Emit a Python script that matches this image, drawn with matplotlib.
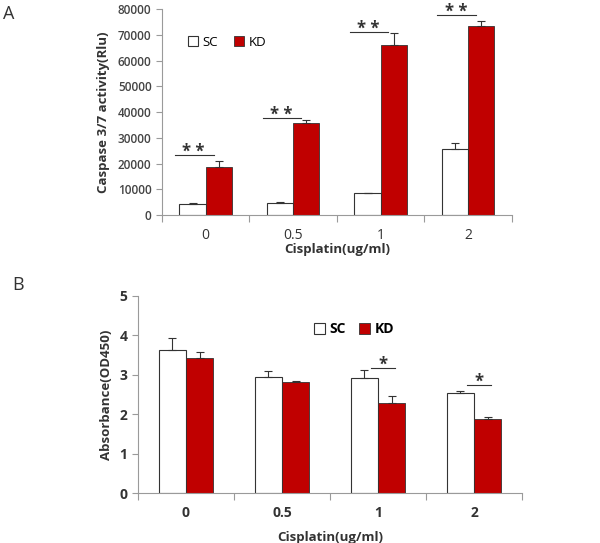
import numpy as np
import matplotlib
matplotlib.use("Agg")
import matplotlib.pyplot as plt

plt.rcParams['font.family'] = ['Open Sans', 'DejaVu Sans']

doses = ['0', '0.5', '1', '2']

# panel A - caspase 3/7 activity
casp_sc = [4300, 4700, 8500, 25600]
casp_sc_err = [400, 500, 200, 2500]
casp_kd = [18600, 35900, 66200, 73400]
casp_kd_err = [2500, 1000, 4400, 2100]
casp_sig = ['**', '**', '**', '**']
casp_sig_y = [23500, 37700, 71200, 77900]

# panel B - absorbance OD450
abs_sc = [3.62, 2.95, 2.93, 2.54]
abs_sc_err = [0.32, 0.14, 0.18, 0.06]
abs_kd = [3.42, 2.82, 2.29, 1.89]
abs_kd_err = [0.16, 0.03, 0.17, 0.03]
abs_sig = ['', '', '*', '*']
abs_sig_y = [0, 0, 3.17, 2.75]

RED = '#C00000'
AXIS = '#9a9a9a'
INK = '#333333'


def style_axes(ax, n):
    for s in ['top', 'right']:
        ax.spines[s].set_visible(False)
    ax.spines['left'].set_color(AXIS)
    ax.spines['bottom'].set_color(AXIS)
    ax.set_xlim(-0.5, n - 0.5)
    # ticks between categories like excel
    ax.set_xticks(np.arange(n + 1) - 0.5, minor=False)
    ax.set_xticklabels([''] * (n + 1))
    ax.set_xticks(np.arange(n), minor=True)
    ax.tick_params(axis='x', which='major', length=5, color=AXIS)
    ax.tick_params(axis='x', which='minor', length=0, pad=9)
    ax.tick_params(axis='y', length=4, color=AXIS, direction='out')


def bars(ax, sc, sc_err, kd, kd_err, w):
    x = np.arange(len(sc))
    ekw = dict(ecolor=INK, elinewidth=0.8, capsize=3, capthick=0.8)
    ax.bar(x - w / 2, sc, w, color='white', edgecolor=INK, linewidth=0.8,
           yerr=[np.zeros(len(sc)), sc_err], error_kw=ekw, label='SC', zorder=2)
    ax.bar(x + w / 2, kd, w, color=RED, edgecolor=INK, linewidth=0.6,
           yerr=[np.zeros(len(kd)), kd_err], error_kw=ekw, label='KD', zorder=2)
    return x


def star(ax, x, y, s, size):
    # asterisk sits high in its text box, so anchor the baseline a bit under the line
    ax.annotate(s, (x, y), xytext=(0, -1.5), textcoords='offset points',
                ha='center', va='baseline', fontsize=size, fontweight='bold',
                color=INK, annotation_clip=False)


fig = plt.figure(figsize=(6, 5.43), dpi=100)

# ---- A ----
axA = fig.add_axes([0.27, 0.604, 0.583, 0.379])
w = 0.3
x = bars(axA, casp_sc, casp_sc_err, casp_kd, casp_kd_err, w)
style_axes(axA, len(doses))
axA.set_xticklabels(doses, minor=True, fontsize=10, color=INK)
axA.set_ylim(0, 80000)
axA.set_yticks(np.arange(0, 80001, 10000))
axA.set_yticklabels([str(v) for v in range(0, 80001, 10000)], fontsize=8.5, color='#444444', fontweight='semibold')
for i in range(len(doses)):
    axA.plot([x[i] - 0.35, x[i] + 0.09], [casp_sig_y[i]] * 2, color=INK, lw=0.8)
    star(axA, x[i] - 0.14, casp_sig_y[i], '* *', 12)
axA.set_ylabel('Caspase 3/7 activity(Rlu)', fontsize=9.5, fontweight='bold', color=INK, labelpad=6)
axA.set_xlabel('Cisplatin(ug/ml)', fontsize=9.5, fontweight='bold', color=INK, labelpad=0)
axA.legend(loc='upper left', bbox_to_anchor=(0.04, 0.93), ncol=2, frameon=False,
           prop=dict(size=9.5),
           handlelength=0.8, handleheight=0.8, handletextpad=0.3, columnspacing=1.2)
fig.text(0.005, 0.975, 'A', fontsize=13, va='center', color=INK)

# ---- B ----
axB = fig.add_axes([0.23, 0.092, 0.64, 0.363])
w = 0.285
x = bars(axB, abs_sc, abs_sc_err, abs_kd, abs_kd_err, w)
style_axes(axB, len(doses))
axB.set_xticklabels(doses, minor=True, fontsize=10, color=INK, fontweight='bold')
axB.set_ylim(0, 5)
axB.set_yticks(range(6))
axB.set_yticklabels([str(v) for v in range(6)], fontsize=10, color=INK, fontweight='bold')
for i in range(len(doses)):
    if abs_sig[i]:
        axB.plot([x[i] - 0.07, x[i] + 0.18], [abs_sig_y[i]] * 2, color=INK, lw=0.8)
        star(axB, x[i] + 0.05, abs_sig_y[i], abs_sig[i], 12)
axB.set_ylabel('Absorbance(OD450)', fontsize=9.5, fontweight='bold', color=INK, labelpad=5)
axB.set_xlabel('Cisplatin(ug/ml)', fontsize=9.5, fontweight='bold', color=INK, labelpad=8)
axB.legend(loc='upper left', bbox_to_anchor=(0.425, 0.93), ncol=2, frameon=False,
           prop=dict(weight='bold', size=10),
           handlelength=0.8, handleheight=0.8, handletextpad=0.3, columnspacing=1.0)
fig.text(0.02, 0.475, 'B', fontsize=13, va='center', color=INK)

fig.savefig('out.png', dpi=100, facecolor='white')
